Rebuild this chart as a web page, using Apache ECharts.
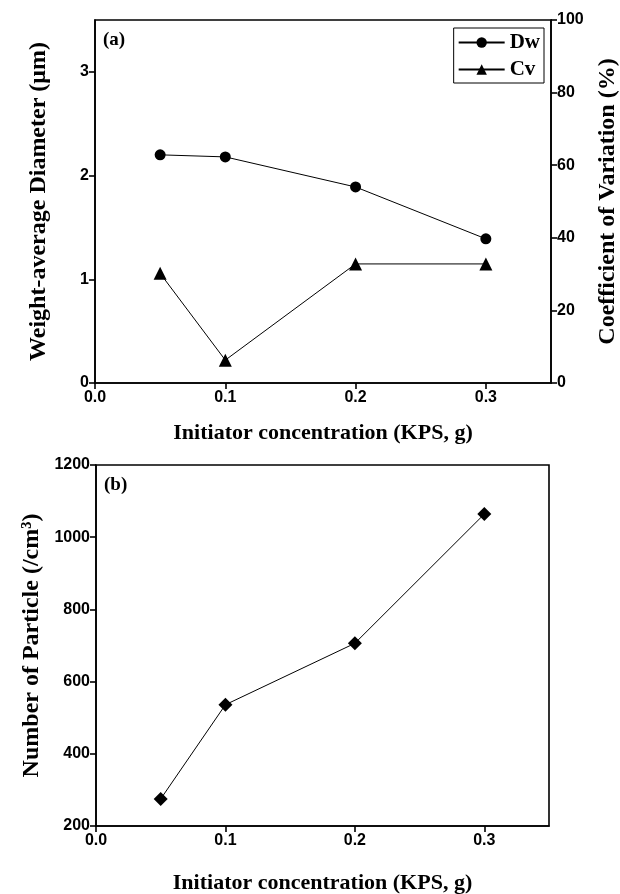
<!DOCTYPE html>
<html>
<head>
<meta charset="utf-8">
<script src="https://cdn.jsdelivr.net/npm/echarts@6/dist/echarts.min.js"></script>
<style>html,body{margin:0;padding:0;background:#fff}#c{width:620px;height:894px}</style>
</head>
<body>
<div id="c"></div>
<script>
// Data
const kps = [0.05, 0.1, 0.2, 0.3];
const dw = [2.2, 2.18, 1.89, 1.39];          // Weight-average diameter (µm)
const cv = [30.2, 6.3, 32.8, 32.8];          // Coefficient of variation (%)
const np = [275, 536, 706, 1064];            // Number of particle (/cm3)
const xTicks = [0, 0.1, 0.2, 0.3];
const dwTicks = [0, 1, 2, 3];

const serif = '"Liberation Serif", "Times New Roman", serif';
const sans = '"Liberation Sans Narrow", "Liberation Sans", Arial, sans-serif';
const tickLbl = {color: '#000', fontFamily: sans, fontWeight: 'bold', fontSize: 16};
const nameSty = (fs) => ({color: '#000', fontFamily: serif, fontWeight: 'bold', fontSize: fs});
const axLine = {show: true, lineStyle: {color: '#000', width: 1.6}};
const axTick = {show: true, inside: false, length: 6, lineStyle: {color: '#000', width: 1.6}};

const chart = echarts.init(document.getElementById('c'), null, {renderer: 'canvas'});
chart.setOption({
  animation: false,
  backgroundColor: '#fff',
  title: [
    {text: '(a)', left: 98, top: 26, textStyle: {fontFamily: serif, fontWeight: 'bold', fontSize: 19, color: '#000'}},
    {text: '(b)', left: 99, top: 471, textStyle: {fontFamily: serif, fontWeight: 'bold', fontSize: 19, color: '#000'}}
  ],
  legend: {
    data: ['Dw', 'Cv'],
    orient: 'vertical',
    right: 76, top: 28,
    borderColor: '#000', borderWidth: 1, borderRadius: 0,
    padding: [4, 4, 3, 4],
    itemWidth: 46, itemHeight: 13, itemGap: 6,
    textStyle: {fontFamily: serif, fontWeight: 'bold', fontSize: 21, color: '#000'}
  },
  grid: [
    {left: 95, right: 69, top: 20, height: 363, outerBoundsMode: 'none', containLabel: false,
     show: true, borderColor: '#000', borderWidth: 1.6, backgroundColor: 'transparent'},
    {left: 96, right: 71, top: 465, height: 361, outerBoundsMode: 'none', containLabel: false,
     show: true, borderColor: '#000', borderWidth: 1.6, backgroundColor: 'transparent'}
  ],
  xAxis: [
    {gridIndex: 0, type: 'value', min: 0, max: 0.35, interval: 0.1,
     name: 'Initiator concentration (KPS, g)', nameLocation: 'middle', nameGap: 39, nameTextStyle: nameSty(22),
     axisLine: axLine, axisTick: Object.assign({customValues: xTicks}, axTick), splitLine: {show: false},
     axisLabel: Object.assign({margin: 7, customValues: xTicks, formatter: v => v.toFixed(1)}, tickLbl)},
    {gridIndex: 1, type: 'value', min: 0, max: 0.35, interval: 0.1,
     name: 'Initiator concentration (KPS, g)', nameLocation: 'middle', nameGap: 46, nameTextStyle: nameSty(22),
     axisLine: axLine, axisTick: Object.assign({customValues: xTicks}, axTick), splitLine: {show: false},
     axisLabel: Object.assign({margin: 7, customValues: xTicks, formatter: v => v.toFixed(1)}, tickLbl)}
  ],
  yAxis: [
    {gridIndex: 0, type: 'value', min: 0, max: 3.5, interval: 1,
     name: 'Weight-average Diameter (μm)', nameLocation: 'middle', nameGap: 44, nameRotate: 90, nameTextStyle: nameSty(24),
     axisLine: axLine, axisTick: Object.assign({customValues: dwTicks}, axTick), splitLine: {show: false},
     axisLabel: Object.assign({margin: 6, customValues: dwTicks, formatter: v => String(v)}, tickLbl)},
    {gridIndex: 0, type: 'value', position: 'right', min: 0, max: 100, interval: 20,
     name: 'Coefficient of Variation (%)', nameLocation: 'middle', nameGap: 45, nameRotate: 90, nameTextStyle: nameSty(24),
     axisLine: axLine, axisTick: axTick, splitLine: {show: false},
     axisLabel: Object.assign({margin: 6}, tickLbl)},
    {gridIndex: 1, type: 'value', min: 200, max: 1200, interval: 200,
     name: 'Number of Particle (/cm³)', nameLocation: 'middle', nameGap: 44, nameRotate: 90, nameTextStyle: nameSty(24),
     axisLine: axLine, axisTick: axTick, splitLine: {show: false},
     axisLabel: Object.assign({margin: 6, formatter: v => String(v)}, tickLbl)}
  ],
  series: [
    {name: 'Dw', type: 'line', xAxisIndex: 0, yAxisIndex: 0,
     data: kps.map((x, i) => [x, dw[i]]),
     symbol: 'circle', symbolSize: 11,
     lineStyle: {color: '#000', width: 1}, itemStyle: {color: '#000'}},
    {name: 'Cv', type: 'line', xAxisIndex: 0, yAxisIndex: 1,
     data: kps.map((x, i) => [x, cv[i]]),
     symbol: 'triangle', symbolSize: 13,
     lineStyle: {color: '#000', width: 1}, itemStyle: {color: '#000'}},
    {name: 'Np', type: 'line', xAxisIndex: 1, yAxisIndex: 2,
     data: kps.map((x, i) => [x, np[i]]),
     symbol: 'diamond', symbolSize: 14,
     lineStyle: {color: '#000', width: 1}, itemStyle: {color: '#000'}}
  ]
});
</script>
</body>
</html>
